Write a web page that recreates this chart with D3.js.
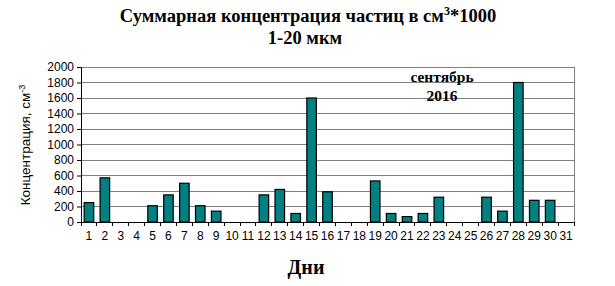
<!DOCTYPE html>
<html><head><meta charset="utf-8">
<script src="https://cdn.jsdelivr.net/npm/d3@7/dist/d3.min.js"></script>
<style>body{margin:0;background:#fff}svg{display:block}</style>
</head><body>
<script>
const days = d3.range(1, 32).map(String);
const values = [250,570,null,null,210,350,500,210,140,null,null,350,420,110,1600,390,null,null,530,110,70,110,320,null,null,320,140,1800,280,280,null];
const yTicks = [0,200,400,600,800,1000,1200,1400,1600,1800,2000];
const titleLines = ["Суммарная концентрация частиц в см", "1-20 мкм"];
const noteLines = ["сентябрь", "2016"];

const W = 615, H = 286;
const m = {left: 81, right: 41, top: 67, bottom: 64};
const svg = d3.select("body").append("svg").attr("width", W).attr("height", H);

const x = d3.scaleBand().domain(days).range([m.left, W - m.right]).paddingInner(0.4).paddingOuter(0.2);
const y = d3.scaleLinear().domain([0, 2000]).range([H - m.bottom, m.top]);

// gridlines
svg.append("g").selectAll("line").data(yTicks.slice(1)).join("line")
  .attr("x1", m.left).attr("x2", W - m.right)
  .attr("y1", d => y(d)).attr("y2", d => y(d))
  .attr("stroke", "#808080").attr("stroke-width", 1).attr("shape-rendering", "crispEdges");
// plot border
svg.append("rect").attr("x", m.left).attr("y", m.top)
  .attr("width", W - m.right - m.left).attr("height", y(0) - m.top)
  .attr("fill", "none").attr("stroke", "#808080").attr("shape-rendering", "crispEdges");

// bars
svg.append("g").selectAll("rect").data(days.map((d, i) => ({d, v: values[i]})).filter(o => o.v != null))
  .join("rect")
  .attr("x", o => x(o.d)).attr("width", x.bandwidth())
  .attr("y", o => y(o.v)).attr("height", o => y(0) - y(o.v))
  .attr("fill", "#008080").attr("stroke", "#000").attr("stroke-width", 1.2);

// y axis
const ya = svg.append("g").attr("transform", `translate(${m.left},0)`)
  .call(d3.axisLeft(y).tickValues(yTicks).tickFormat(d3.format("d")).tickSize(4).tickPadding(3));
ya.select(".domain").attr("stroke", "#000");
ya.selectAll("line").attr("stroke", "#000");
ya.selectAll("text").attr("font-family", "Arial, 'Liberation Sans', sans-serif").attr("font-size", 12).attr("fill", "#000");

// x axis
const xa = svg.append("g").attr("transform", `translate(0,${y(0)})`)
  .call(d3.axisBottom(x).tickSize(0).tickPadding(9));
xa.select(".domain").attr("stroke", "#000");
xa.selectAll("text").attr("font-family", "Arial, 'Liberation Sans', sans-serif").attr("font-size", 12).attr("fill", "#000");
xa.append("g").selectAll("line").data(d3.range(days.length + 1)).join("line")
  .attr("x1", i => m.left + i * (W - m.right - m.left) / days.length)
  .attr("x2", i => m.left + i * (W - m.right - m.left) / days.length)
  .attr("y1", 0).attr("y2", 4).attr("stroke", "#000").attr("shape-rendering", "crispEdges");

// title
const t1 = svg.append("text").attr("x", 308).attr("y", 22).attr("text-anchor", "middle")
  .attr("font-family", "'Times New Roman', 'Liberation Serif', serif").attr("font-weight", "bold").attr("font-size", 18.5);
t1.append("tspan").text(titleLines[0]);
t1.append("tspan").attr("font-size", 12).attr("dy", -7).text("3");
t1.append("tspan").attr("dy", 7).text("*1000");
svg.append("text").attr("x", 305).attr("y", 44).attr("text-anchor", "middle")
  .attr("font-family", "'Times New Roman', 'Liberation Serif', serif").attr("font-weight", "bold").attr("font-size", 18.5)
  .text(titleLines[1]);

// note
svg.append("g").selectAll("text").data(noteLines).join("text")
  .attr("x", 442).attr("y", (d, i) => 82 + i * 19).attr("text-anchor", "middle")
  .attr("font-family", "'Times New Roman', 'Liberation Serif', serif").attr("font-weight", "bold").attr("font-size", 15.5)
  .text(d => d);

// x label
svg.append("text").attr("x", 306).attr("y", 274).attr("text-anchor", "middle")
  .attr("font-family", "'Times New Roman', 'Liberation Serif', serif").attr("font-weight", "bold").attr("font-size", 20)
  .text("Дни");

// y label
const yl = svg.append("text").attr("transform", `translate(30,145) rotate(-90)`).attr("text-anchor", "middle")
  .attr("font-family", "Arial, 'Liberation Sans', sans-serif").attr("font-size", 13.5);
yl.append("tspan").text("Концентрация, см");
yl.append("tspan").attr("font-size", 9).attr("dy", -5).text("-3");
</script>
</body></html>
